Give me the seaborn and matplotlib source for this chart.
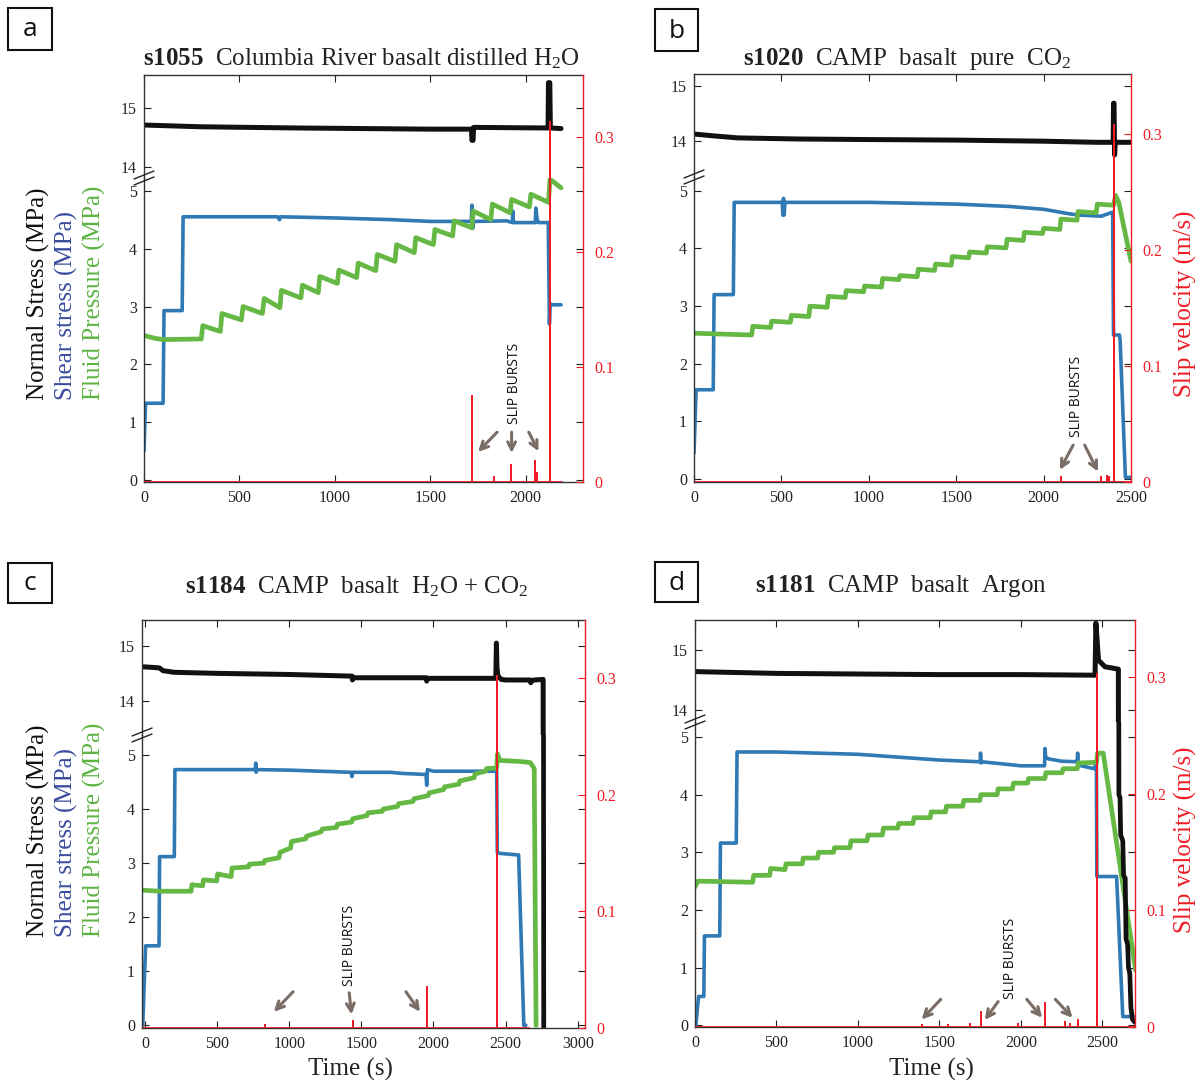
import matplotlib
matplotlib.use("Agg")
import matplotlib.pyplot as plt
import seaborn as sns
import pandas as pd
from matplotlib.lines import Line2D
from matplotlib.patches import Rectangle

# ---------------- data ----------------
# Panel a: s1055
ns_a_t = [0, 300, 800, 1500, 1716, 1718, 1724, 1727, 2100, 2117, 2119, 2126, 2129, 2185]
ns_a_v = [14.71, 14.68, 14.66, 14.64, 14.64, 14.45, 14.45, 14.67, 14.66, 14.66, 15.43, 15.43, 14.66, 14.65]
sh_a_t = [0, 8, 100, 105, 200, 205, 700, 710, 715, 1000, 1300, 1500, 1715, 1718, 1722, 1726,
          1900, 1930, 1932, 1936, 2050, 2053, 2060, 2066, 2118, 2124, 2128, 2135, 2185]
sh_a_v = [0.5, 1.33, 1.33, 2.93, 2.93, 4.55, 4.55, 4.5, 4.55, 4.53, 4.5, 4.47, 4.47, 4.75, 4.35, 4.47,
          4.48, 4.45, 4.65, 4.45, 4.45, 4.7, 4.5, 4.45, 4.45, 2.7, 3.05, 3.03, 3.03]
fl_a_t = [0, 60, 100, 300, 308, 400, 408, 510, 519, 620, 630, 712, 720, 822, 830, 913, 921, 1013, 1021,
          1114, 1122, 1214, 1222, 1315, 1323, 1416, 1424, 1516, 1524, 1617, 1625, 1717, 1725, 1817, 1825,
          1918, 1926, 2019, 2027, 2119, 2127, 2185]
fl_a_v = [2.5, 2.45, 2.43, 2.44, 2.67, 2.57, 2.88, 2.77, 3.0, 2.88, 3.14, 2.98, 3.28, 3.15, 3.37, 3.24, 3.52,
          3.4, 3.63, 3.5, 3.75, 3.62, 3.9, 3.78, 4.07, 3.93, 4.19, 4.07, 4.33, 4.22, 4.48, 4.36, 4.65, 4.5,
          4.77, 4.62, 4.85, 4.72, 4.94, 4.8, 5.2, 5.05]
vel_a_t = [0, 1720, 1720, 1720, 1835, 1835, 1835, 1925, 1925, 1925, 2050, 2050, 2050, 2060, 2060, 2060,
           2125, 2125, 2128, 2128, 2190]
vel_a_v = [0, 0, 0.075, 0, 0, 0.004, 0, 0, 0.015, 0, 0, 0.018, 0, 0, 0.008, 0, 0, 0.313, 0.313, 0, 0]

# Panel b: s1020
ns_b_t = [0, 100, 250, 600, 1000, 1500, 2000, 2300, 2398, 2400, 2403, 2406, 2410, 2500]
ns_b_v = [14.13, 14.1, 14.06, 14.04, 14.03, 14.02, 14.0, 13.98, 13.98, 14.69, 14.69, 13.75, 13.98, 13.98]
sh_b_t = [0, 12, 110, 115, 225, 230, 505, 508, 512, 516, 520, 528, 1000, 1500, 1800, 2000, 2150, 2200,
          2330, 2395, 2400, 2434, 2438, 2468, 2500]
sh_b_v = [0.45, 1.55, 1.55, 3.2, 3.2, 4.8, 4.8, 4.58, 4.87, 4.58, 4.8, 4.8, 4.8, 4.77, 4.73, 4.68, 4.6,
          4.58, 4.56, 4.63, 2.5, 2.5, 2.4, 0.03, 0.03]
fl_b_t = [0, 330, 336, 438, 444, 551, 557, 657, 663, 762, 768, 865, 871, 970, 976, 1073, 1079, 1172, 1178,
          1277, 1283, 1376, 1382, 1472, 1478, 1571, 1577, 1672, 1678, 1785, 1791, 1884, 1890, 1994, 2000,
          2093, 2099, 2191, 2197, 2301, 2307, 2400, 2412, 2430, 2500]
fl_b_v = [2.53, 2.5, 2.65, 2.63, 2.74, 2.72, 2.84, 2.82, 3.0, 2.98, 3.17, 3.15, 3.27, 3.25, 3.35, 3.33, 3.48,
          3.46, 3.53, 3.51, 3.64, 3.62, 3.73, 3.71, 3.86, 3.84, 3.94, 3.92, 4.03, 4.01, 4.16, 4.14, 4.28,
          4.26, 4.35, 4.33, 4.51, 4.49, 4.64, 4.62, 4.77, 4.75, 4.92, 4.8, 3.78]
vel_b_t = [0, 2100, 2100, 2100, 2330, 2330, 2330, 2360, 2360, 2360, 2375, 2375, 2375, 2400, 2400, 2402, 2402, 2500]
vel_b_v = [0, 0, 0.004, 0, 0, 0.004, 0, 0, 0.005, 0, 0, 0.004, 0, 0, 0.308, 0.308, 0, 0]

# Panel c: s1184
ns_c_t = [-15, 100, 125, 200, 500, 1000, 1436, 1438, 1442, 1500, 1950, 1953, 1957, 2000, 2432, 2436, 2440,
          2447, 2470, 2500, 2670, 2674, 2678, 2700, 2760, 2764]
ns_c_v = [14.62, 14.6, 14.55, 14.52, 14.5, 14.48, 14.45, 14.38, 14.42, 14.42, 14.42, 14.36, 14.41, 14.41,
          14.41, 15.05, 14.6, 14.45, 14.39, 14.38, 14.38, 14.33, 14.37, 14.38, 14.39, -0.05]
sh_c_t = [-15, 5, 98, 102, 204, 208, 765, 768, 771, 775, 1000, 1430, 1435, 1440, 1700, 1780, 1948, 1953,
          1958, 2000, 2438, 2442, 2460, 2590, 2626, 2640]
sh_c_v = [0, 1.47, 1.47, 3.12, 3.12, 4.73, 4.73, 4.85, 4.68, 4.73, 4.72, 4.68, 4.6, 4.68, 4.68, 4.66, 4.64,
          4.44, 4.73, 4.7, 4.7, 3.2, 3.18, 3.15, 0.0, 0.0]
fl_c_t = [-15, 100, 320, 326, 400, 406, 498, 504, 598, 604, 718, 724, 825, 831, 930, 936, 1010, 1016, 1115,
          1121, 1222, 1228, 1328, 1334, 1434, 1440, 1540, 1546, 1646, 1652, 1752, 1758, 1858, 1864, 1964,
          1970, 2070, 2076, 2176, 2182, 2282, 2288, 2362, 2368, 2438, 2444, 2460, 2600, 2671, 2698, 2711]
fl_c_v = [2.5, 2.48, 2.48, 2.6, 2.58, 2.69, 2.67, 2.8, 2.75, 2.91, 2.93, 2.98, 3.0, 3.05, 3.1, 3.2, 3.28,
          3.4, 3.45, 3.5, 3.58, 3.63, 3.66, 3.72, 3.76, 3.82, 3.88, 3.93, 3.96, 4.0, 4.05, 4.1, 4.14, 4.19,
          4.25, 4.3, 4.36, 4.41, 4.46, 4.52, 4.58, 4.65, 4.7, 4.75, 4.76, 5.02, 4.9, 4.88, 4.86, 4.75, 0.0]
vel_c_t = [-15, 833, 833, 833, 1440, 1440, 1440, 1955, 1955, 1955, 2440, 2440, 2443, 2443, 2660]
vel_c_v = [0, 0, 0.003, 0, 0, 0.006, 0, 0, 0.035, 0, 0, 0.302, 0.302, 0, 0]

# Panel d: s1181
ns_d_t = [0, 500, 1000, 1500, 2000, 2455, 2460, 2464, 2476, 2516, 2560, 2598, 2601, 2608, 2612, 2625, 2630,
          2640, 2645, 2655, 2660, 2668, 2675, 2685, 2700]
ns_d_v = [14.64, 14.61, 14.6, 14.59, 14.59, 14.58, 15.45, 15.3, 14.83, 14.72, 14.7, 14.68, 4.0, 3.95, 3.3,
          3.2, 2.6, 2.55, 1.5, 1.4, 1.0, 0.9, 0.3, 0.1, 0.05]
sh_d_t = [5, 22, 54, 58, 152, 156, 253, 258, 500, 1000, 1250, 1500, 1750, 1752, 1756, 1760, 2000, 2145,
          2148, 2152, 2170, 2250, 2345, 2348, 2352, 2370, 2450, 2463, 2466, 2587, 2625, 2692]
sh_d_v = [0.0, 0.5, 0.5, 1.55, 1.55, 3.16, 3.16, 4.74, 4.74, 4.7, 4.65, 4.6, 4.57, 4.72, 4.55, 4.57, 4.5,
          4.5, 4.8, 4.65, 4.62, 4.58, 4.57, 4.72, 4.52, 4.5, 4.45, 4.55, 2.58, 2.58, 0.15, 0.15]
fl_d_t = [0, 19, 354, 360, 458, 464, 552, 558, 658, 664, 752, 758, 850, 856, 951, 957, 1056, 1062, 1150,
          1156, 1244, 1250, 1338, 1344, 1443, 1449, 1537, 1543, 1643, 1649, 1748, 1754, 1854, 1860, 1948,
          1954, 2041, 2047, 2147, 2153, 2253, 2259, 2346, 2352, 2464, 2470, 2505, 2704]
fl_d_v = [2.4, 2.5, 2.48, 2.6, 2.6, 2.72, 2.7, 2.8, 2.8, 2.9, 2.9, 3.0, 3.0, 3.08, 3.08, 3.2, 3.2, 3.3, 3.3,
          3.42, 3.42, 3.5, 3.5, 3.6, 3.6, 3.7, 3.7, 3.8, 3.8, 3.9, 3.9, 4.0, 4.0, 4.1, 4.1, 4.2, 4.2, 4.28,
          4.28, 4.38, 4.38, 4.45, 4.45, 4.55, 4.56, 4.72, 4.72, 0.95]
vel_d_t = [0, 1390, 1390, 1390, 1550, 1550, 1550, 1690, 1690, 1690, 1754, 1754, 1754, 1980, 1980, 1980,
           2150, 2150, 2150, 2270, 2270, 2270, 2300, 2300, 2300, 2350, 2350, 2350, 2465, 2465, 2468, 2468, 2700]
vel_d_v = [0, 0, 0.002, 0, 0, 0.002, 0, 0, 0.003, 0, 0, 0.013, 0, 0, 0.003, 0, 0, 0.021, 0, 0, 0.004, 0,
           0, 0.003, 0, 0, 0.006, 0, 0, 0.303, 0.303, 0, 0]

titles = [r"$\mathbf{s1055}$  Columbia River basalt distilled H$_2$O",
          r"$\mathbf{s1020}$  CAMP  basalt  pure  CO$_2$",
          r"$\mathbf{s1184}$  CAMP  basalt  H$_2$O + CO$_2$",
          r"$\mathbf{s1181}$  CAMP  basalt  Argon"]
letters = ["a", "b", "c", "d"]
x_ticks = [[0, 500, 1000, 1500, 2000],
           [0, 500, 1000, 1500, 2000, 2500],
           [0, 500, 1000, 1500, 2000, 2500, 3000],
           [0, 500, 1000, 1500, 2000, 2500]]
low_ticks = [0, 1, 2, 3, 4, 5]
up_ticks = [14, 15]
vel_ticks = [0, 0.1, 0.2, 0.3]
vel_tick_labels = ["0", "0.1", "0.2", "0.3"]
label_normal = "Normal Stress (MPa)"
label_shear = "Shear stress (MPa)"
label_fluid = "Fluid Pressure (MPa)"
label_vel = "Slip velocity (m/s)"
label_time = "Time (s)"
burst_text = "SLIP BURSTS"
# arrows: (tail_t, tail_v, head_t, head_v) in the lower axes data coordinates
arrows_a = [(1850, 0.83, 1750, 0.49), (1926, 0.83, 1926, 0.47), (2016, 0.83, 2067, 0.5)]
arrows_b = [(2169, 0.59, 2093, 0.16), (2235, 0.59, 2311, 0.13)]
arrows_c = [(1027, 0.62, 894, 0.25), (1416, 0.6, 1432, 0.2), (1809, 0.62, 1907, 0.25)]
arrows_d = [(1508, 0.45, 1391, 0.1), (1860, 0.41, 1778, 0.09), (2036, 0.45, 2130, 0.13), (2211, 0.45, 2317, 0.13)]
burst_pos = [(1942, 1.67), (2191, 1.43), (1416, 1.48), (1935, 1.16)]

# ---------------- style ----------------
sns.set_theme(style="white")
plt.rcParams["font.family"] = ["Liberation Serif", "DejaVu Serif"]
plt.rcParams["mathtext.fontset"] = "custom"
plt.rcParams["mathtext.rm"] = "Liberation Serif"
plt.rcParams["mathtext.bf"] = "Liberation Serif:bold"
plt.rcParams["mathtext.it"] = "Liberation Serif:italic"

C_N = "#111111"
C_S = "#2f79b5"
C_F = "#66b845"
C_V = "#ee1c25"
C_SL = "#3a4c9f"
C_FL = "#5cb442"
C_AR = "#7a6d66"

W, H = 1202, 1084
fig = plt.figure(figsize=(W / 100, H / 100), dpi=100)
fig.patch.set_facecolor("white")


def fr(l, r, t, b):
    return [l / W, 1 - b / H, (r - l) / W, (b - t) / H]


panels = [
    dict(box=(144, 583, 75, 178, 482), xlim=(0, 2300), uy=(13.81, 15.56), ly=(-0.03, 5.22), vy=(0, 0.354),
         ns=(ns_a_t, ns_a_v), sh=(sh_a_t, sh_a_v), fl=(fl_a_t, fl_a_v), vel=(vel_a_t, vel_a_v), arrows=arrows_a),
    dict(box=(694, 1131, 74, 177, 482), xlim=(0, 2500), uy=(13.35, 15.22), ly=(-0.05, 5.24), vy=(0, 0.352),
         ns=(ns_b_t, ns_b_v), sh=(sh_b_t, sh_b_v), fl=(fl_b_t, fl_b_v), vel=(vel_b_t, vel_b_v), arrows=arrows_b),
    dict(box=(142, 585, 620, 735, 1028), xlim=(-20, 3050), uy=(13.38, 15.47), ly=(-0.05, 5.37), vy=(0, 0.350),
         ns=(ns_c_t, ns_c_v), sh=(sh_c_t, sh_c_v), fl=(fl_c_t, fl_c_v), vel=(vel_c_t, vel_c_v), arrows=arrows_c),
    dict(box=(695, 1135, 620, 722, 1027), xlim=(0, 2700), uy=(13.8, 15.5), ly=(-0.03, 5.26), vy=(0, 0.349),
         ns=(ns_d_t, ns_d_v), sh=(sh_d_t, sh_d_v), fl=(fl_d_t, fl_d_v), vel=(vel_d_t, vel_d_v), arrows=arrows_d),
]

title_pos = [(361, 59), (907, 59), (357, 587), (901, 586)]
letter_box = [(8, 8, 52, 50), (655, 9, 698, 51), (8, 563, 52, 603), (655, 562, 698, 602)]

for i, p in enumerate(panels):
    l, r, top, brk, bot = p["box"]
    axL = fig.add_axes(fr(l, r, brk, bot))
    axU = fig.add_axes(fr(l, r, top, brk), sharex=axL)
    axV = fig.add_axes(fr(l, r, top, bot), sharex=axL)
    axV.set_facecolor("none")
    axV.set_zorder(5)

    # stress lines
    sns.lineplot(x=p["sh"][0], y=p["sh"][1], ax=axL, color=C_S, lw=2.6, sort=False, estimator=None)
    sns.lineplot(x=p["fl"][0], y=p["fl"][1], ax=axL, color=C_F, lw=3.4, sort=False, estimator=None)
    sns.lineplot(x=p["ns"][0], y=p["ns"][1], ax=axL, color=C_N, lw=3.4, sort=False, estimator=None)
    sns.lineplot(x=p["ns"][0], y=p["ns"][1], ax=axU, color=C_N, lw=3.6, sort=False, estimator=None)
    # slip velocity
    sns.lineplot(x=p["vel"][0], y=p["vel"][1], ax=axV, color=C_V, lw=1.3, sort=False, estimator=None)

    for ax in (axL, axU, axV):
        ax.set_xlim(*p["xlim"])
        ax.set_xlabel("")
        ax.set_ylabel("")
        ax.grid(False)
    axU.set_ylim(*p["uy"])
    axL.set_ylim(*p["ly"])
    axV.set_ylim(*p["vy"])

    # lower axes
    axL.set_xticks(x_ticks[i])
    axL.set_xticklabels([str(v) for v in x_ticks[i]])
    axL.set_yticks(low_ticks)
    axL.set_yticklabels([str(v) for v in low_ticks])
    axL.tick_params(axis="both", direction="in", length=5, width=0.8, labelsize=11.5, colors="#222222")
    axL.tick_params(axis="y", right=True, left=True, pad=5)
    axL.tick_params(axis="x", bottom=True, top=False, pad=6)
    axL.spines["top"].set_visible(False)
    axL.spines["right"].set_visible(False)
    # upper axes
    axU.set_yticks(up_ticks)
    axU.set_yticklabels([str(v) for v in up_ticks])
    axU.tick_params(axis="both", direction="in", length=5, width=0.8, labelsize=11.5, colors="#222222")
    axU.tick_params(axis="x", top=True, bottom=False, labelbottom=False, labeltop=False)
    axU.tick_params(axis="y", right=True, left=True, pad=5)
    axU.spines["bottom"].set_visible(False)
    axU.spines["right"].set_visible(False)
    for ax in (axL, axU):
        for s in ("left", "top", "bottom"):
            ax.spines[s].set_color("#333333")
            ax.spines[s].set_linewidth(1.0)
    # velocity axes
    for s in ("left", "top", "bottom"):
        axV.spines[s].set_visible(False)
    axV.spines["right"].set_visible(True)
    axV.spines["right"].set_color(C_V)
    axV.spines["right"].set_linewidth(1.0)
    axV.yaxis.tick_right()
    axV.set_yticks(vel_ticks)
    axV.set_yticklabels(vel_tick_labels)
    axV.tick_params(axis="y", direction="in", length=5, width=0.8, labelsize=11.5, colors=C_V, pad=8)
    axV.tick_params(axis="x", bottom=False, labelbottom=False, top=False)

    # break marks on left spine
    for off in (-3, 3):
        fig.add_artist(Line2D([(l - 10) / W, (l + 10) / W],
                              [1 - (brk + 4 + off) / H, 1 - (brk - 4 + off) / H],
                              color="#222222", lw=1.0))

    # slip bursts annotation
    bt, bv = burst_pos[i]
    axL.text(bt, bv, burst_text, rotation=90, ha="center", va="center",
             family=["Open Sans", "DejaVu Sans"], fontsize=10, color="#111111", zorder=6)
    for (tt, tv, ht, hv) in p["arrows"]:
        axL.annotate("", xy=(ht, hv), xytext=(tt, tv),
                     arrowprops=dict(arrowstyle="->", color=C_AR, lw=2.2, mutation_scale=14,
                                     shrinkA=0, shrinkB=0), zorder=6)

    # title
    tx, ty = title_pos[i]
    fig.text(tx / W, 1 - ty / H, titles[i], ha="center", va="center", fontsize=18, color="#222222")
    # panel letter box
    x0, y0, x1, y1 = letter_box[i]
    fig.add_artist(Rectangle((x0 / W, 1 - y1 / H), (x1 - x0) / W, (y1 - y0) / H,
                             transform=fig.transFigure, fill=False, lw=1.5, ec="#111111"))
    fig.text((x0 + x1) / 2 / W, 1 - ((y0 + y1) / 2 + 1) / H, letters[i], ha="center", va="center",
             family=["Open Sans", "DejaVu Sans"], fontsize=19, color="#111111")

# y labels (left, panels a and c)
for ybot in (400, 937):
    for xx, txt, col in ((38, label_normal, C_N), (66, label_shear, C_SL), (94, label_fluid, C_FL)):
        fig.text(xx / W, 1 - ybot / H, txt, rotation=90, rotation_mode="anchor", ha="left", va="center",
                 fontsize=18, color=col)
# right labels (panels b and d)
for yc in (304, 840):
    fig.text(1185 / W, 1 - yc / H, label_vel, rotation=90, ha="center", va="center", fontsize=18, color=C_V)
# x labels (panels c and d)
for xc in (350, 931):
    fig.text(xc / W, 1 - 1069 / H, label_time, ha="center", va="center", fontsize=18, color="#222222")

fig.savefig("out.png", dpi=100, facecolor="white")
